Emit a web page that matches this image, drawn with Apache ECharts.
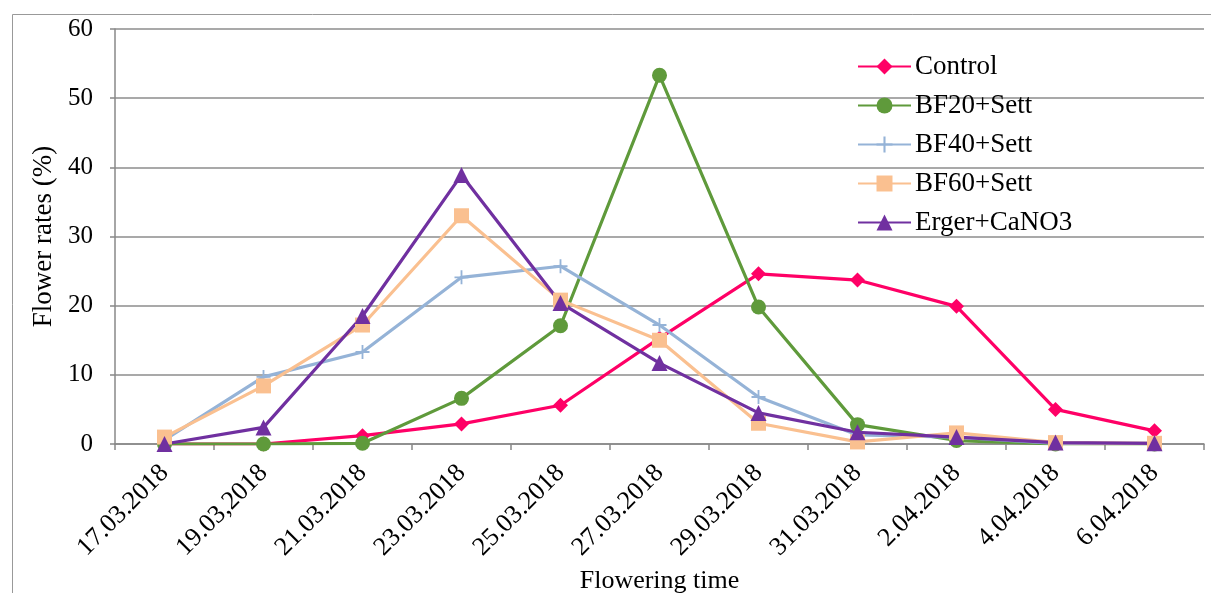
<!DOCTYPE html>
<html>
<head>
<meta charset="utf-8">
<script src="https://cdn.jsdelivr.net/npm/echarts@6/dist/echarts.min.js"></script>
<style>
  html, body { margin: 0; padding: 0; background: #fff; }
  #chart { width: 1211px; height: 593px; }
</style>
</head>
<body>
<div id="chart"></div>
<script>
// dates on the x axis (label typo kept as in the original)
var dates = ['17.03.2018', '19.03,2018', '21.03.2018', '23.03.2018', '25.03.2018', '27.03.2018',
             '29.03.2018', '31.03.2018', '2.04.2018', '4.04.2018', '6.04.2018'];

// flower rates (%)
var control = [0, 0, 1.2, 2.9, 5.6, 15.3, 24.6, 23.7, 19.9, 5.0, 1.9];
var bf20    = [0, 0, 0.1, 6.6, 17.1, 53.3, 19.8, 2.8, 0.5, 0, 0];
var bf40    = [0.6, 9.7, 13.3, 24.1, 25.7, 17.2, 6.8, 1.3, 1.0, 0.1, 0.1];
var bf60    = [1.0, 8.4, 17.2, 33.0, 20.8, 15.0, 3.0, 0.3, 1.6, 0.2, 0.1];
var erger   = [0, 2.4, 18.5, 38.9, 20.4, 11.7, 4.5, 1.7, 1.0, 0.2, 0.1];

var yTicks = { min: 0, max: 60, interval: 10 };

var serif = '"Liberation Serif", "DejaVu Serif", serif';
var plusPath = 'path://M4.35,0H5.65V4.35H10V5.65H5.65V10H4.35V5.65H0V4.35H4.35Z';

function mkSeries(name, data, color, symbol, size) {
    return {
        name: name,
        type: 'line',
        data: data,
        symbol: symbol,
        symbolSize: size,
        showAllSymbol: true,
        lineStyle: { color: color, width: 3.2 },
        itemStyle: { color: color },
        emphasis: { disabled: true }
    };
}

var myChart = echarts.init(document.getElementById('chart'));

myChart.setOption({
    animation: false,
    textStyle: { fontFamily: serif, color: '#000' },
    graphic: [{
        type: 'rect',
        shape: { x: 12.5, y: 14.5, width: 1220, height: 620 },
        style: { fill: 'none', stroke: '#999', lineWidth: 1 },
        silent: true
    }],
    grid: { left: 115, right: 7, top: 29, bottom: 149, outerBoundsMode: 'none', containLabel: false },
    legend: {
        orient: 'vertical',
        left: 857,
        top: 53,
        padding: 0,
        itemWidth: 53,
        itemHeight: 20,
        itemGap: 12,
        textStyle: { fontFamily: serif, fontSize: 27, color: '#000', padding: [0, 0, 0, -1] },
        data: ['Control', 'BF20+Sett', 'BF40+Sett', 'BF60+Sett', 'Erger+CaNO3']
    },
    xAxis: {
        type: 'category',
        data: dates,
        boundaryGap: true,
        axisLine: { lineStyle: { color: '#888', width: 1.5 } },
        axisTick: { show: true, length: 6, lineStyle: { color: '#888', width: 1.5 } },
        axisLabel: { rotate: 45, fontSize: 26, color: '#000', fontFamily: serif, margin: 25 },
        name: 'Flowering time',
        nameLocation: 'middle',
        nameGap: 121,
        nameTextStyle: { fontSize: 26, color: '#000', fontFamily: serif }
    },
    yAxis: {
        type: 'value',
        min: yTicks.min,
        max: yTicks.max,
        interval: yTicks.interval,
        axisLine: { show: true, lineStyle: { color: '#888', width: 1.5 } },
        axisTick: { show: true, length: 5, lineStyle: { color: '#888', width: 1.5 } },
        axisLabel: { fontSize: 25, color: '#000', fontFamily: serif, margin: 22 },
        splitLine: { lineStyle: { color: '#8c8c8c', width: 1.5 } },
        name: 'Flower rates (%)',
        nameLocation: 'middle',
        nameGap: 57,
        nameTextStyle: { fontSize: 27, color: '#000', fontFamily: serif }
    },
    series: [
        mkSeries('Control', control, '#FF0066', 'diamond', 15),
        mkSeries('BF20+Sett', bf20, '#5F9A3B', 'circle', 15),
        mkSeries('BF40+Sett', bf40, '#95B3D7', plusPath, 14),
        mkSeries('BF60+Sett', bf60, '#FAC090', 'rect', 15),
        mkSeries('Erger+CaNO3', erger, '#7030A0', 'triangle', 16)
    ]
});
</script>
</body>
</html>
